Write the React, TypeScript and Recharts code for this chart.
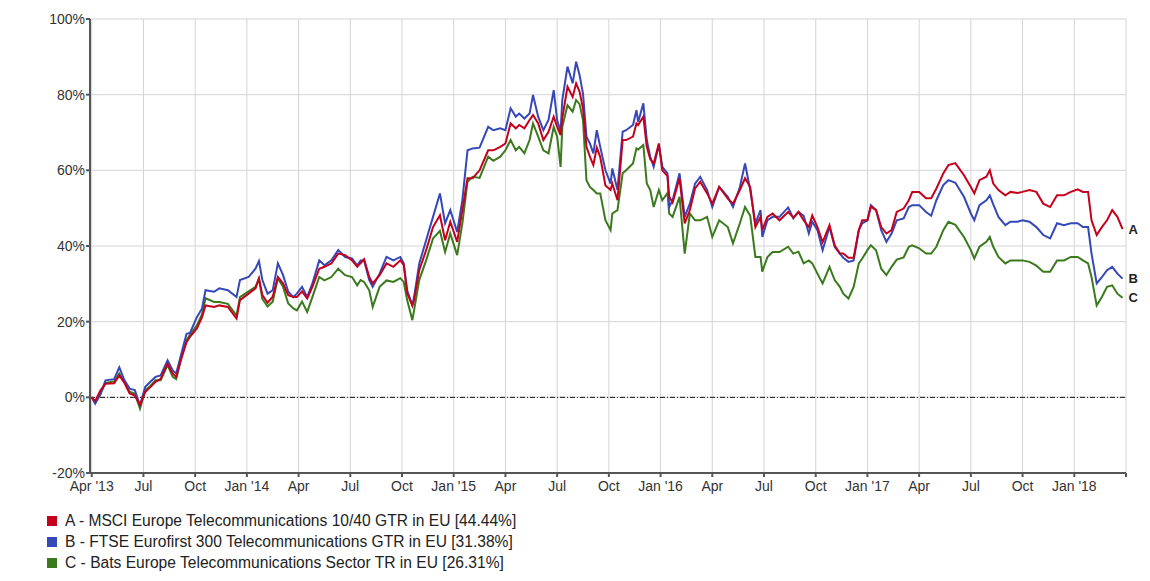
import { LineChart, Line, XAxis, YAxis, CartesianGrid, ReferenceLine, LabelList } from 'recharts'

// months since April 2013
const MONTHS = [
  0, 0.2, 0.5, 0.8, 1.3, 1.6, 1.9, 2.2, 2.5, 2.8,
  3.1, 3.4, 3.7, 4.0, 4.4, 4.7, 4.9, 5.2, 5.5, 5.7,
  6.1, 6.4, 6.6, 7.1, 7.4, 7.9, 8.4, 8.6, 9.1, 9.5,
  9.7, 9.9, 10.2, 10.5, 10.8, 11.1, 11.4, 11.7, 11.9, 12.2,
  12.5, 12.8, 13.2, 13.5, 13.9, 14.3, 14.7, 15.1, 15.4, 15.6,
  15.8, 16.1, 16.3, 16.7, 17.1, 17.5, 17.9, 18.1, 18.3, 18.6,
  18.7, 19.0, 19.4, 19.8, 20.2, 20.5, 20.8, 21.2, 21.5, 21.8,
  22.1, 22.5, 23.0, 23.3, 23.7, 24.0, 24.3, 24.6, 24.8, 25.1,
  25.4, 25.6, 25.9, 26.2, 26.5, 26.8, 27.0, 27.2, 27.3, 27.6,
  27.9, 28.1, 28.3, 28.5, 28.7, 28.9, 29.1, 29.3, 29.5, 29.8,
  30.1, 30.2, 30.5, 30.8, 31.0, 31.4, 31.6, 31.7, 32.0, 32.2,
  32.4, 32.6, 32.9, 33.1, 33.4, 33.5, 33.7, 34.1, 34.4, 34.7,
  35.0, 35.3, 35.7, 36.0, 36.4, 36.9, 37.2, 37.6, 37.9, 38.2,
  38.5, 38.8, 38.9, 39.2, 39.5, 39.9, 40.4, 40.7, 41.0, 41.3,
  41.6, 41.8, 42.1, 42.4, 42.8, 43.1, 43.4, 43.6, 43.9, 44.2,
  44.5, 44.7, 45.0, 45.2, 45.5, 45.8, 46.1, 46.4, 46.7, 47.1,
  47.4, 47.6, 48.0, 48.4, 48.7, 49.0, 49.4, 49.7, 50.1, 50.6,
  51.0, 51.2, 51.5, 51.9, 52.1, 52.3, 52.6, 53.0, 53.3, 53.7,
  54.0, 54.4, 54.8, 55.2, 55.6, 56.0, 56.4, 56.8, 57.2, 57.5,
  57.8, 58.0, 58.3, 58.6, 58.9, 59.2, 59.5, 59.8,
]

// A - MSCI Europe Telecommunications 10/40 GTR
const SERIES_A = [
  0, -1.0, 1.8, 3.6, 3.7, 5.8, 3.8, 1.0, 0.5, -2.0,
  1.4, 2.7, 4.1, 4.9, 8.9, 6.3, 5.4, 10.2, 14.6, 16.0,
  18.2, 21.2, 24.3, 23.9, 24.3, 23.9, 20.8, 25.7, 27.4, 28.8,
  31.4, 27.0, 25.0, 26.6, 31.8, 30.1, 27.0, 26.5, 26.5, 28.0,
  26.1, 29.2, 34.0, 34.5, 35.4, 38.0, 37.6, 36.2, 34.5, 35.5,
  36.5, 31.8, 30.1, 32.3, 35.4, 34.5, 36.2, 35.0, 27.5, 24.3,
  25.7, 33.6, 38.9, 45.0, 48.1, 41.5, 46.4, 41.1, 49.5, 57.9,
  57.9, 60.0, 65.3, 65.3, 66.2, 67.1, 72.4, 71.1, 72.0, 71.1,
  73.3, 74.6, 72.4, 68.0, 70.2, 74.2, 71.5, 69.3, 73.8, 82.1,
  79.4, 83.0, 80.8, 76.4, 66.2, 63.6, 61.4, 66.0, 63.5, 56.0,
  54.8, 56.5, 52.1, 68.0, 68.0, 68.9, 72.4, 72.0, 74.2, 66.2,
  63.0, 61.8, 67.1, 60.0, 58.5, 53.0, 51.5, 57.9, 46.0, 49.5,
  55.2, 57.0, 53.9, 51.2, 55.6, 52.5, 51.2, 54.8, 57.9, 55.6,
  45.0, 47.7, 44.2, 47.7, 48.6, 46.8, 49.0, 47.5, 49.0, 46.8,
  45.0, 48.1, 45.0, 41.0, 45.5, 40.2, 38.0, 38.0, 36.9, 36.9,
  44.2, 46.8, 46.8, 50.4, 49.5, 45.0, 43.3, 44.2, 49.0, 49.9,
  52.1, 54.3, 54.3, 52.6, 52.6, 55.2, 59.2, 61.4, 61.9, 58.7,
  55.6, 53.9, 57.4, 58.3, 60.0, 56.5, 54.8, 53.4, 54.3, 54.0,
  54.3, 54.8, 54.3, 51.2, 50.3, 53.4, 53.4, 54.3, 55.0, 54.3,
  54.3, 46.8, 42.9, 45.0, 46.8, 49.5, 47.7, 44.44,
]

// B - FTSE Eurofirst 300 Telecommunications GTR
const SERIES_B = [
  0, -1.7, 0.8, 4.5, 4.8, 7.9, 4.5, 2.3, 1.9, -2.1,
  2.7, 4.1, 5.4, 5.8, 9.8, 7.1, 6.3, 11.6, 16.8, 17.0,
  21.2, 23.5, 28.3, 27.9, 28.8, 28.3, 26.5, 31.0, 31.8, 34.0,
  36.0, 31.0, 27.4, 28.3, 35.4, 32.3, 27.9, 26.5, 27.4, 29.2,
  26.5, 30.1, 36.2, 34.9, 36.2, 38.9, 37.1, 36.7, 34.9, 36.2,
  36.2, 31.0, 29.2, 32.7, 37.1, 36.2, 37.1, 35.4, 28.3, 24.3,
  26.5, 35.4, 41.5, 47.7, 53.9, 46.0, 49.5, 43.7, 52.1, 65.3,
  65.8, 66.0, 71.5, 70.6, 71.1, 70.6, 76.4, 74.2, 75.0, 73.7,
  75.0, 79.9, 74.2, 70.6, 73.3, 81.2, 73.3, 70.2, 78.6, 87.4,
  83.0, 88.7, 85.2, 80.3, 68.9, 67.1, 64.5, 70.6, 66.2, 60.0,
  56.5, 60.5, 54.8, 70.2, 70.6, 72.0, 75.9, 72.8, 77.7, 68.0,
  63.6, 60.9, 66.7, 60.9, 59.2, 50.3, 52.1, 59.2, 47.7, 51.2,
  56.5, 58.3, 54.8, 50.3, 55.6, 53.0, 50.3, 55.6, 61.8, 54.8,
  46.0, 49.5, 42.4, 46.8, 47.7, 47.7, 50.2, 47.3, 49.0, 48.0,
  43.3, 46.4, 44.2, 38.9, 45.0, 39.8, 38.0, 36.9, 35.8, 36.2,
  44.2, 46.0, 46.8, 50.8, 49.5, 44.2, 41.1, 43.3, 46.8, 47.3,
  50.3, 50.8, 50.8, 49.0, 48.0, 52.1, 56.1, 57.4, 56.7, 53.0,
  48.6, 46.8, 50.8, 52.1, 53.4, 51.0, 47.7, 45.5, 46.4, 46.4,
  46.8, 46.4, 45.0, 42.9, 42.0, 46.0, 45.5, 46.0, 46.0, 45.0,
  45.0, 38.0, 30.1, 31.8, 33.6, 34.5, 32.7, 31.38,
]

// C - Bats Europe Telecommunications Sector TR
const SERIES_C = [
  0, -1.2, 0.8, 3.8, 4.2, 6.3, 4.0, 1.5, 1.0, -3.0,
  1.8, 3.0, 4.5, 4.5, 8.5, 5.4, 4.8, 10.8, 15.2, 16.5,
  19.0, 22.0, 26.2, 25.2, 25.2, 24.7, 21.6, 26.5, 28.0, 29.2,
  31.4, 26.0, 24.0, 25.3, 31.5, 29.2, 24.8, 23.5, 23.0, 25.3,
  22.6, 26.5, 31.8, 30.9, 31.8, 34.0, 32.3, 31.8, 29.6, 31.0,
  30.5, 28.3, 23.9, 29.2, 30.9, 30.5, 31.5, 30.5, 25.7, 20.4,
  23.0, 31.0, 36.2, 42.0, 44.0, 38.4, 43.3, 37.6, 46.0, 57.0,
  58.3, 58.0, 63.6, 62.5, 63.6, 65.3, 68.0, 65.3, 66.2, 64.5,
  68.0, 72.4, 68.9, 65.3, 64.5, 71.5, 68.9, 60.9, 71.5, 77.2,
  75.5, 78.6, 77.5, 73.3, 57.4, 55.6, 54.8, 53.9, 53.9, 46.8,
  44.2, 48.6, 49.5, 59.2, 60.0, 61.8, 65.8, 65.5, 66.7, 56.5,
  54.8, 50.3, 54.8, 52.1, 54.0, 48.6, 47.7, 53.0, 38.0, 48.6,
  46.8, 46.8, 47.7, 42.4, 46.8, 45.0, 40.7, 46.0, 50.3, 48.0,
  37.1, 37.1, 33.2, 37.1, 38.4, 38.4, 39.8, 38.0, 38.5, 35.4,
  36.2, 35.4, 32.7, 30.1, 34.5, 31.0, 29.2, 27.4, 26.1, 29.2,
  35.4, 36.7, 38.9, 40.2, 38.9, 34.0, 32.3, 34.5, 36.4, 37.0,
  39.8, 40.2, 39.4, 38.0, 38.0, 39.8, 44.2, 46.4, 45.6, 42.4,
  38.9, 36.7, 39.8, 41.1, 42.4, 39.8, 37.1, 35.4, 36.2, 36.2,
  36.2, 35.8, 34.8, 33.2, 33.2, 36.2, 36.2, 37.1, 37.1, 36.2,
  35.4, 31.8, 24.3, 26.5, 29.2, 29.6, 27.4, 26.31,
]

const X_TICKS = [0, 3, 6, 9, 12, 15, 18, 21, 24, 27, 30, 33, 36, 39, 42, 45, 48, 51, 54, 57, 60]
const X_TICK_LABELS = [
  "Apr '13", 'Jul', 'Oct', "Jan '14", 'Apr', 'Jul', 'Oct', "Jan '15", 'Apr', 'Jul', 'Oct',
  "Jan '16", 'Apr', 'Jul', 'Oct', "Jan '17", 'Apr', 'Jul', 'Oct', "Jan '18", '',
]
const Y_TICKS = [-20, 0, 20, 40, 60, 80, 100]

const SERIES = [
  { key: 'a', tag: 'A', name: 'MSCI Europe Telecommunications 10/40 GTR in EU', color: '#c4001c', values: SERIES_A },
  { key: 'b', tag: 'B', name: 'FTSE Eurofirst 300 Telecommunications GTR in EU', color: '#3548b8', values: SERIES_B },
  { key: 'c', tag: 'C', name: 'Bats Europe Telecommunications Sector TR in EU', color: '#3a7a1c', values: SERIES_C },
]

const data = MONTHS.map((m, i) => ({
  m,
  a: SERIES_A[i],
  b: SERIES_B[i],
  c: SERIES_C[i],
}))

const FONT = '"Liberation Sans", Arial, sans-serif'
const last = MONTHS.length - 1

function endLabel(tag: string) {
  return (props: any) => {
    if (props.index !== last) return null
    return (
      <text x={props.x + 6} y={props.y} dy="0.35em" fontSize={13} fontWeight="bold" fill="#222" fontFamily={FONT}>
        {tag}
      </text>
    )
  }
}

export default function App() {
  const drawOrder = [...SERIES].reverse()
  return (
    <div style={{ fontFamily: FONT, width: 1142 }}>
      <LineChart width={1142} height={495} data={data} margin={{ top: 11, right: 24, bottom: 5, left: 0 }}>
        <CartesianGrid stroke="#d4d4d4" strokeWidth={1} />
        <XAxis
          dataKey="m"
          type="number"
          domain={[-0.1, 60]}
          ticks={X_TICKS}
          tickFormatter={(v: number) => X_TICK_LABELS[X_TICKS.indexOf(v)] ?? ''}
          tick={{ fill: '#333', fontSize: 14, fontFamily: FONT }}
          tickSize={4}
          tickMargin={4}
          height={25}
          stroke="#555"
          strokeWidth={2}
          interval={0}
        />
        <YAxis
          type="number"
          domain={[-20, 100]}
          ticks={Y_TICKS}
          tickFormatter={(v: number) => `${v}%`}
          tick={{ fill: '#333', fontSize: 14, fontFamily: FONT }}
          tickSize={4}
          tickMargin={1}
          width={82}
          stroke="#555"
          strokeWidth={2}
          interval={0}
        />
        <ReferenceLine y={0} stroke="#111" strokeWidth={1} strokeDasharray="5 2 1 2" />
        {drawOrder.map((s) => (
          <Line
            key={s.key}
            dataKey={s.key}
            stroke={s.color}
            strokeWidth={2}
            dot={false}
            type="linear"
            isAnimationActive={false}
          >
            <LabelList dataKey={s.key} content={endLabel(s.tag)} />
          </Line>
        ))}
      </LineChart>
      <div style={{ marginTop: 7, paddingLeft: 39, fontSize: 15.6, color: '#222', lineHeight: '21px' }}>
        {SERIES.map((s) => (
          <div key={s.key} style={{ display: 'flex', alignItems: 'center' }}>
            <span style={{ display: 'inline-block', width: 10, height: 10, background: s.color, marginRight: 8 }} />
            <span>
              {s.tag} - {s.name} [{s.values[last].toFixed(2)}%]
            </span>
          </div>
        ))}
      </div>
    </div>
  )
}
